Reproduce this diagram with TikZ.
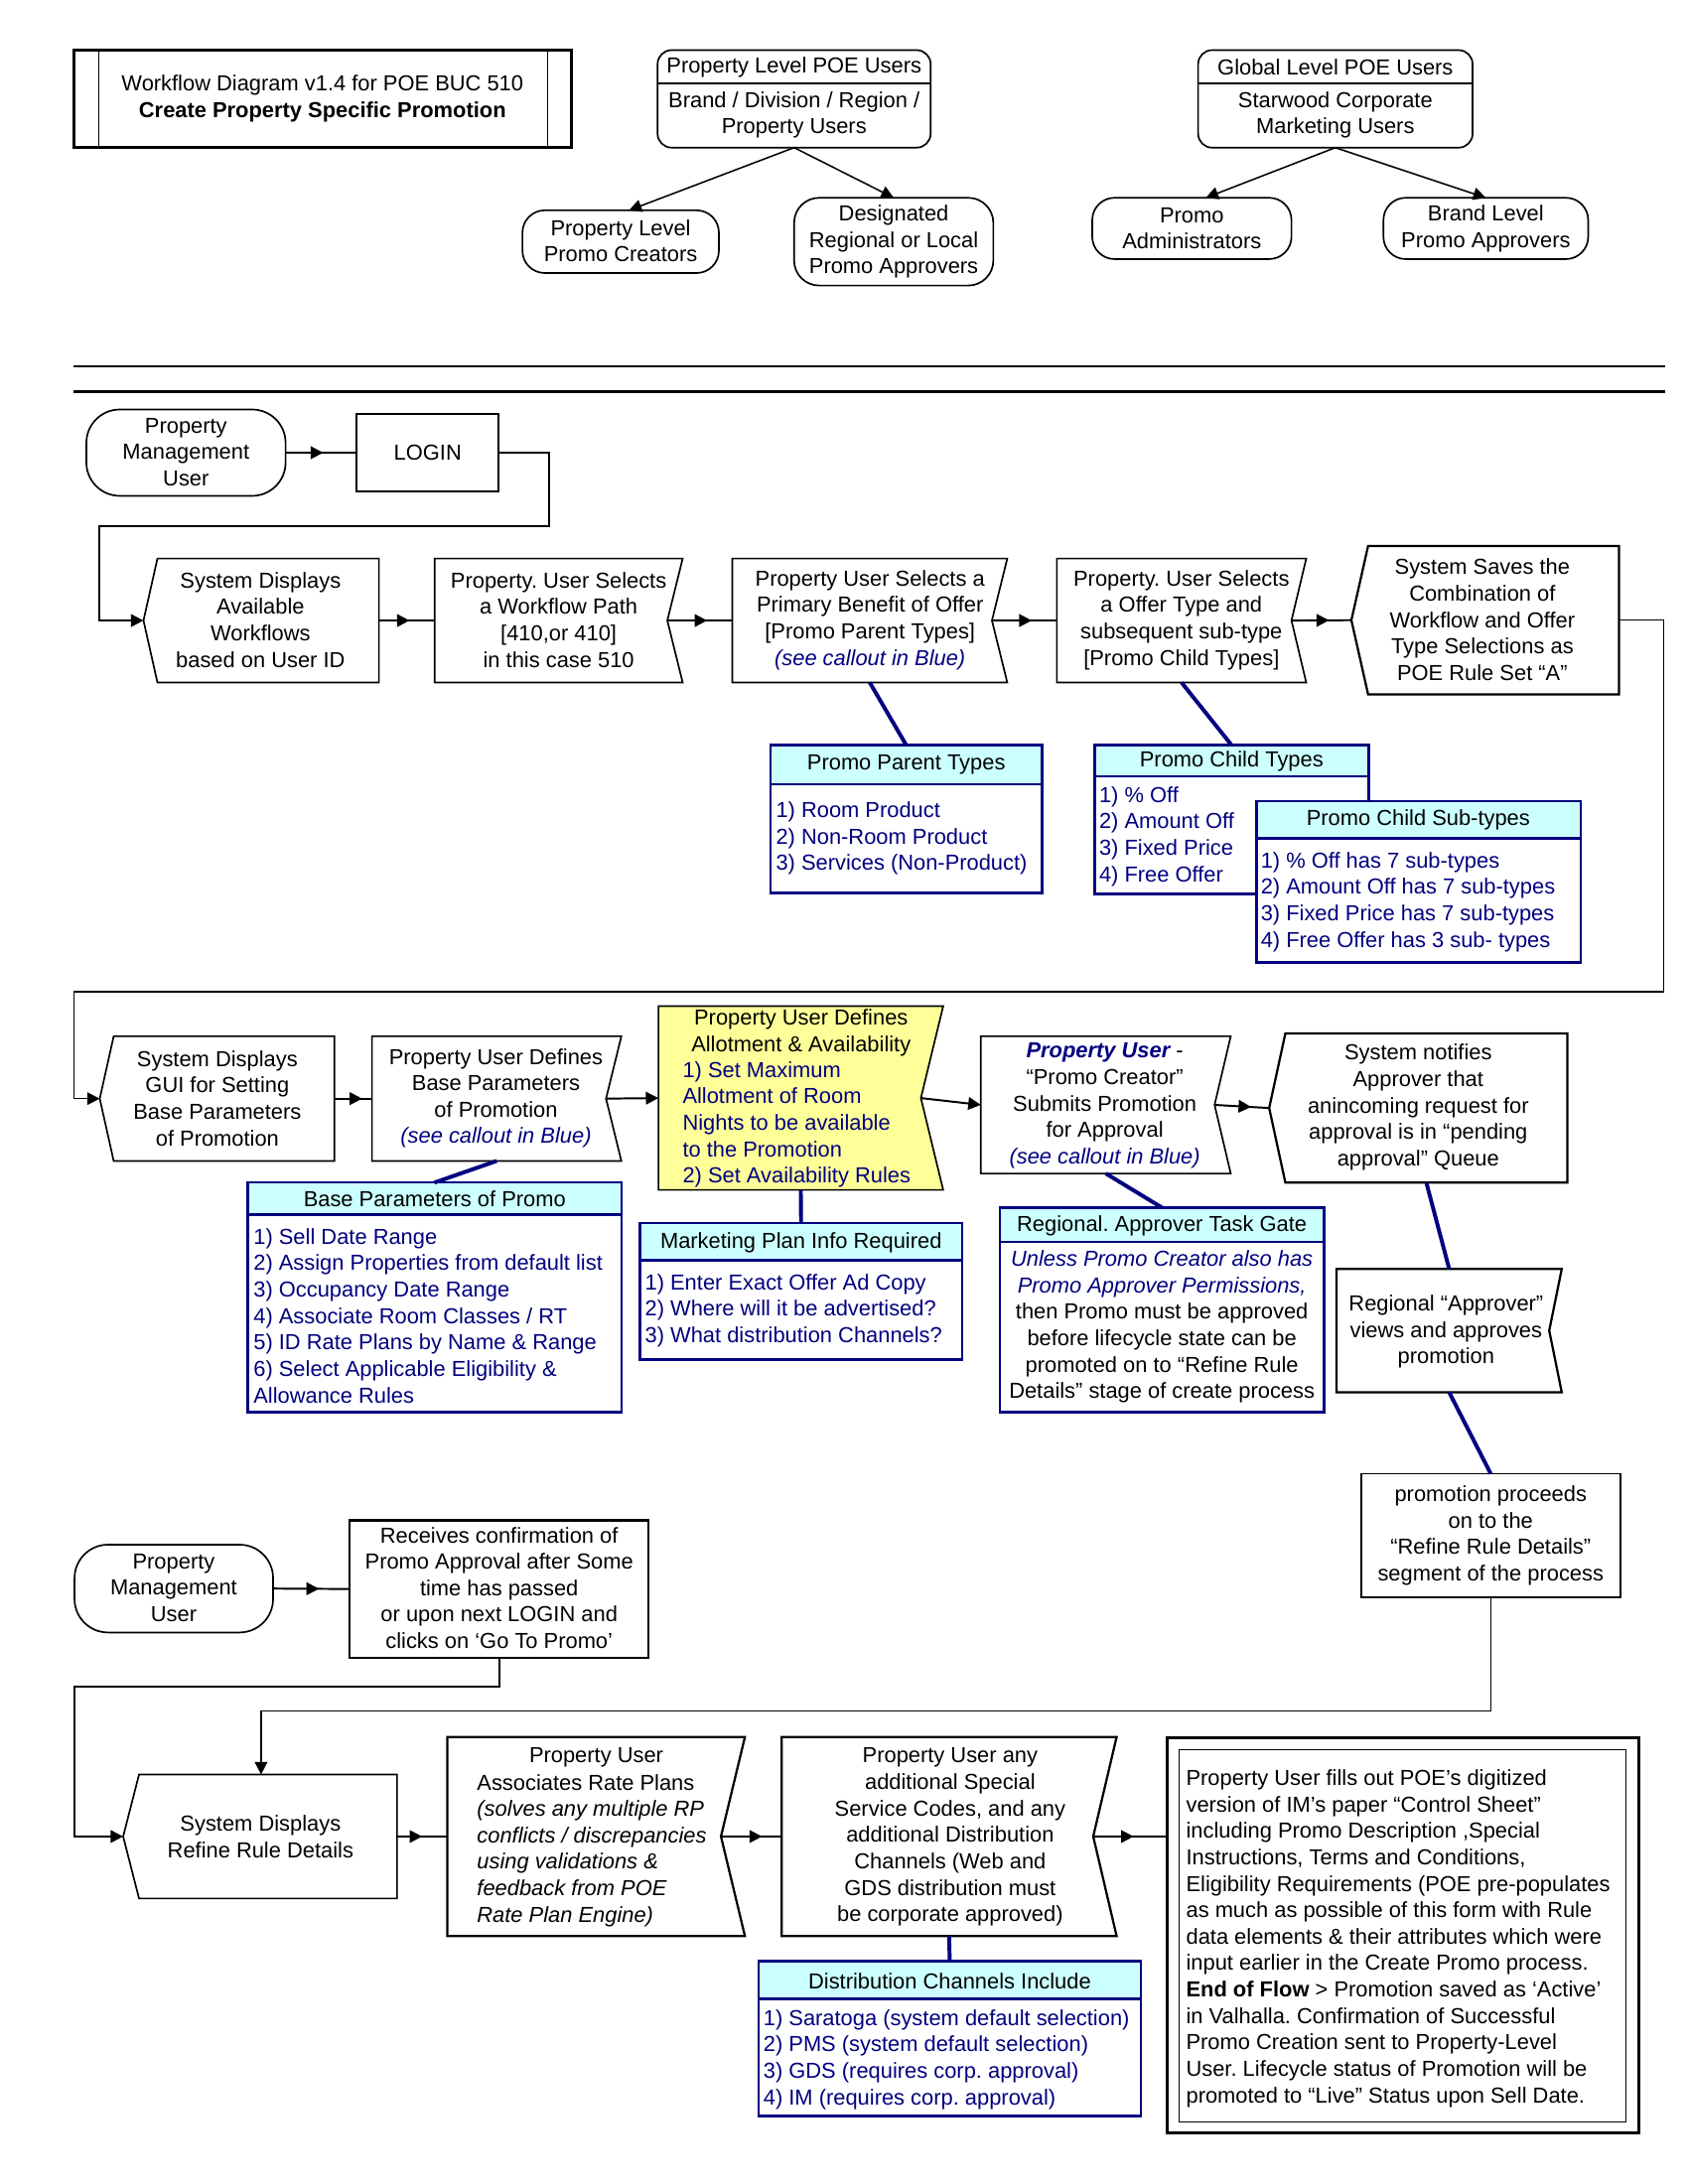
\documentclass[tikz,border=0pt]{standalone}
\usepackage{fontspec}
\setmainfont{Liberation Sans}
\frenchspacing
\usetikzlibrary{arrows.meta,decorations.markings,fit,calc}
\definecolor{navyc}{HTML}{000080}
\definecolor{hdrc}{HTML}{CCFFFF}
\definecolor{yel}{HTML}{FFFF99}
\newcommand\pshape[8][]{%
  \node[fit={(#3,#4)(#5,#6)}] (#2) {};
  \coordinate (#2L) at ([xshift=#7]#2.west);
  \coordinate (#2R) at ([xshift=#8]#2.east);
  \draw[shp,#1] (#2.north west) -- (#2.north east) -- (#2R) -- (#2.south east) -- (#2.south west) -- (#2L) -- cycle;}
\newcommand\callout[6]{%
  \node[fit={(#2,#3)(#4,#5)}] (#1) {};
  \fill[white] (#2,#3) rectangle (#4,#5);
  \fill[hdrc] (#2,#3) rectangle (#4,#6);
  \draw[cb] (#2,#6) -- (#4,#6);
  \draw[cb] (#1.north west) rectangle (#1.south east);}
\begin{document}
\begin{tikzpicture}[x=0.5pt,y=-0.5pt,
  every node/.style={font=\fontsize{7.8}{9.5}\selectfont\frenchspacing, inner sep=0pt, outer sep=0pt, align=center},
  shp/.style={draw, line width=0.6pt, line join=miter},
  tip/.style={-{Triangle[length=4.5pt,width=4.5pt]}},
  conn/.style={draw, line width=0.7pt},
  thinconn/.style={draw, line width=0.55pt},
  marr/.style={postaction={decorate}, decoration={markings, mark=at position #1 with {\arrow{Triangle[length=4.5pt,width=4.5pt]}}}},
  navyconn/.style={draw=navyc, line width=1.4pt},
  cb/.style={draw=navyc, line width=0.9pt},
  bl/.style={text=navyc},
]
\fill[white] (0,0) rectangle (1212,1568);
\useasboundingbox (0,0) rectangle (1212,1568);

% ---------- top section ----------
\node[fit={(53,36)(410,106)}] (title) {};
\draw[line width=0.9pt] (title.north west) rectangle (title.south east);
\draw[line width=0.6pt] (71,36) -- (71,106) (393,36) -- (393,106);
\node (titlet) at (231.5,71) {Workflow Diagram v1.4 for POE BUC 510\\\textbf{Create Property Specific Promotion}};

\node[fit={(472,36)(668,106)}] (plu) {};
\draw[shp, rounded corners=5pt] (plu.north west) rectangle (plu.south east);
\draw[shp] (472,60) -- (668,60);
\node (pluh) at (570,48) {Property Level POE Users};
\node (plub) at (570,82.5) {Brand / Division / Region /\\Property Users};

\node[fit={(375,151)(516,196)}] (plc) {};
\draw[shp, rounded corners=8pt] (plc.north west) rectangle (plc.south east);
\node (plct) at (445.5,173) {Property Level\\Promo Creators};
\node[fit={(570,142)(713,205)}] (dra) {};
\draw[shp, rounded corners=9pt] (dra.north west) rectangle (dra.south east);
\node (drat) at (641.5,173.5) {Designated\\Regional or Local\\Promo Approvers};
\draw[thinconn, tip] (plu.south) -- ([xshift=3pt]plc.north);
\draw[thinconn, tip] (plu.south) -- (dra.north);

\node[fit={(860,36)(1057,106)}] (glu) {};
\draw[shp, rounded corners=5pt] (glu.north west) rectangle (glu.south east);
\draw[shp] (860,60) -- (1057,60);
\node (gluh) at (958.5,48) {Global Level POE Users};
\node (glub) at (958.5,82.5) {Starwood Corporate\\Marketing Users};

\node[fit={(784,142)(927,186)}] (pa) {};
\draw[shp, rounded corners=8pt] (pa.north west) rectangle (pa.south east);
\node (pat) at (855.5,164) {Promo\\Administrators};
\node[fit={(993,142)(1140,186)}] (blp) {};
\draw[shp, rounded corners=8pt] (blp.north west) rectangle (blp.south east);
\node (blpt) at (1066.5,164) {Brand Level\\Promo Approvers};
\draw[thinconn, tip] (glu.south) -- ([xshift=5pt]pa.north);
\draw[thinconn, tip] (glu.south) -- (blp.north);

\draw[line width=1pt] (53,263) -- (1195,263) (53,281) -- (1195,281);

% ---------- row 1 ----------
\node[fit={(62,294)(205,356)}] (pmu1) {};
\draw[shp, rounded corners=12pt] (pmu1.north west) rectangle (pmu1.south east);
\node (pmu1t) at (133.5,324.5) {Property\\Management\\User};
\node[fit={(256,297)(358,353)}] (login) {};
\draw[shp, line width=0.8pt] (login.north west) rectangle (login.south east);
\node (logint) at (307,325) {LOGIN};
\draw[conn, marr=-12pt] (pmu1.east) -- (login.west);

\pshape{sd1}{113}{401}{272}{490}{-5pt}{0pt}
\node (sd1t) at (187,445) {System Displays\\Available\\Workflows\\based on User ID};
\pshape{ws}{312}{401}{490}{490}{0pt}{-5.5pt}
\node (wst) at (401,445) {Property. User Selects\\a Workflow Path\\{[410,or 410]}\\in this case 510};
\pshape{pb}{525.6}{401}{723}{490}{0pt}{-5.5pt}
\node (pbt) at (624.5,445) {Property User Selects a\\Primary Benefit of Offer\\{[Promo Parent Types]}\\\textcolor{navyc}{\itshape (see callout in Blue)}};
\pshape{ot}{758.6}{401}{937.6}{490}{0pt}{-5.3pt}
\node (ott) at (848,445) {Property. User Selects\\a Offer Type and\\subsequent sub-type\\{[Promo Child Types]}};
\pshape[line width=0.8pt]{ss}{982}{392}{1162}{498.5}{-6pt}{0pt}
\node (sst) at (1064,445) {System Saves the\\Combination of\\Workflow and Offer\\Type Selections as\\POE Rule Set “A”};

\draw[conn, tip] (login.east) -- ++(36,0) -- ++(0,53) -| ($(sd1L)+(-32,0)$) -- (sd1L);
\draw[conn, marr=-9pt] (sd1.east) -- (ws.west);
\draw[conn, marr=-9pt] (wsR) -- (pb.west);
\draw[conn, marr=-9pt] (pbR) -- (ot.west);
\draw[conn, marr=-8pt] (otR) -- (ssL);

% callouts row 1
\callout{ppt}{553}{535}{748}{641}{563}
\node (ppth) at (650.5,549) {Promo Parent Types};
\node[bl, anchor=west, align=left] (ppti) at (557,602) {1) Room Product\\2) Non-Room Product\\3) Services (Non-Product)};
\draw[navyconn] (pb.south) -- (ppt.north);

\callout{pct}{785.6}{535}{982.5}{641.7}{557.5}
\node (pcth) at (884,546.5) {Promo Child Types};
\node[bl, anchor=west, align=left] (pcti) at (789,600.5) {1) \% Off\\2) Amount Off\\3) Fixed Price\\4) Free Offer};
\draw[navyconn] (ot.south) -- (pct.north);

\callout{pcs}{902}{575}{1134.5}{691}{601.8}
\node (pcsh) at (1018,588.5) {Promo Child Sub-types};
\node[bl, anchor=west, align=left] (pcsi) at (905,647.5) {1) \% Off has 7 sub-types\\2) Amount Off has 7 sub-types\\3) Fixed Price has 7 sub-types\\4) Free Offer has 3 sub- types};

% ---------- row 2 ----------
\pshape{sdg}{81.6}{744}{240}{833.5}{-5pt}{0pt}
\node (sdgt) at (156,788.5) {System Displays\\GUI for Setting\\Base Parameters\\of Promotion};
\pshape{bp}{267}{744}{446}{833.5}{0pt}{-5.5pt}
\node (bpt) at (356,788.5) {Property User Defines\\Base Parameters\\of Promotion\\\textcolor{navyc}{\itshape (see callout in Blue)}};
\pshape[fill=yel]{al}{472.6}{722.4}{677}{854.3}{0pt}{-8pt}
\node (alh) at (575,741.5) {Property User Defines\\Allotment \& Availability};
\node[bl, anchor=west, align=left] (alb) at (490,807.5) {1) Set Maximum\\Allotment of Room\\Nights to be available\\to the Promotion\\2) Set Availability Rules};
\pshape{pc}{704}{744}{883.4}{842.5}{0pt}{-5.8pt}
\node (pcx) at (793,794) {\textcolor{navyc}{\bfseries\itshape Property User} -\\“Promo Creator”\\Submits Promotion\\for Approval\\\textcolor{navyc}{\itshape (see callout in Blue)}};
\pshape[line width=0.8pt]{sn}{922.6}{742}{1125}{849}{-5.8pt}{0pt}
\node (snt) at (1018,795) {System notifies\\Approver that\\anincoming request for\\approval is in “pending\\approval” Queue};
\pshape[line width=0.8pt]{ra}{959.4}{911}{1121}{999.6}{0pt}{-4.5pt}
\node (rat) at (1038,956) {Regional “Approver”\\views and approves\\promotion};
\node[fit={(977,1058)(1163,1147)}] (pp) {};
\draw[shp] (pp.north west) rectangle (pp.south east);
\node (ppt2) at (1070,1102.5) {promotion proceeds\\on to the\\“Refine Rule Details”\\segment of the process};

\coordinate (rb1) at (1194,712);
\draw[thinconn, tip] (ss.east) -| (rb1) -| ($(sdgL)+(-18.5,0)$) -- (sdgL);
\draw[conn, marr=-3.5pt] (sdg.east) -- (bp.west);
\draw[conn, tip] (bpR) -- (al.west);
\draw[conn, tip] (alR) -- (pc.west);
\draw[conn, marr=-6.5pt] (pcR) -- (snL);
\draw[navyconn] (sn.south) -- (ra.north);
\draw[navyconn] (ra.south) -- (pp.north);

\callout{bpp}{177.8}{849}{446}{1014}{872}
\node (bpph) at (312,861) {Base Parameters of Promo};
\node[bl, anchor=west, align=left] (bppi) at (182,944.5) {1) Sell Date Range\\2) Assign Properties from default list\\3) Occupancy Date Range\\4) Associate Room Classes / RT\\5) ID Rate Plans by Name \& Range\\6) Select Applicable Eligibility \&\\Allowance Rules};
\draw[navyconn] (bp.south) -- (bpp.north);

\callout{mp}{459.4}{878}{690.6}{976}{904.8}
\node (mph) at (575,892) {Marketing Plan Info Required};
\node[bl, anchor=west, align=left] (mpi) at (463,941) {1) Enter Exact Offer Ad Copy\\2) Where will it be advertised?\\3) What distribution Channels?};
\draw[navyconn] (al.south) -- (mp.north);

\callout{tg}{717.7}{867}{950.4}{1014}{891.7}
\node (tgh) at (834,880) {Regional. Approver Task Gate};
\node (tgb) at (834,952.6) {\textcolor{navyc}{\itshape Unless Promo Creator also has}\\\textcolor{navyc}{\itshape Promo Approver Permissions,}\\then Promo must be approved\\before lifecycle state can be\\promoted on to “Refine Rule\\Details” stage of create process};
\draw[navyconn] (pc.south) -- (tg.north);

% ---------- row 3 ----------
\node[fit={(53.5,1109)(196,1172)}] (pmu2) {};
\draw[shp, rounded corners=12pt] (pmu2.north west) rectangle (pmu2.south east);
\node (pmu2t) at (124.7,1140) {Property\\Management\\User};
\node[fit={(251,1091.6)(465.6,1190)}] (rc) {};
\draw[shp, line width=0.8pt] (rc.north west) rectangle (rc.south east);
\node (rct) at (358.3,1140) {Receives confirmation of\\Promo Approval after Some\\time has passed\\or upon next LOGIN and\\clicks on ‘Go To Promo’};
\draw[conn, marr=-11pt] (pmu2.east) -- (rc.west);

\pshape{rr}{99.8}{1274}{285}{1363}{-5.7pt}{0pt}
\node (rrt) at (187,1318.5) {System Displays\\Refine Rule Details};
\pshape[line width=0.8pt]{ar}{321}{1247}{534.7}{1390}{0pt}{-8.6pt}
\node (art1) at (428,1262) {Property User};
\node[anchor=west, align=left] (art2) at (342.4,1328.5) {Associates Rate Plans\\\textit{(solves any multiple RP}\\\textit{conflicts / discrepancies}\\\textit{using validations \&}\\\textit{feedback from POE}\\\textit{Rate Plan Engine)}};
\pshape[line width=0.8pt]{ad}{561}{1247}{801.5}{1390}{0pt}{-8.4pt}
\node (adt) at (682,1319) {Property User any\\additional Special\\Service Codes, and any\\additional Distribution\\Channels (Web and\\GDS distribution must\\be corporate approved)};

\node[fit={(837.7,1247.7)(1176.4,1531.6)}] (big) {};
\draw[line width=1.1pt] (big.north west) rectangle (big.south east);
\draw[line width=0.5pt] (846.3,1256) rectangle (1167,1523.5);
\node[anchor=west, align=left] (bigt) at (851.4,1391.7) {Property User fills out POE’s digitized\\version of IM’s paper “Control Sheet”\\including Promo Description ,Special\\Instructions, Terms and Conditions,\\Eligibility Requirements (POE pre-populates\\as much as possible of this form with Rule\\data elements \& their attributes which were\\input earlier in the Create Promo process.\\\textbf{End of Flow} > Promotion saved as ‘Active’\\in Valhalla. Confirmation of Successful\\Promo Creation sent to Property-Level\\User. Lifecycle status of Promotion will be\\promoted to “Live” Status upon Sell Date.};

\draw[conn, tip] (rc.south) -- ++(0,21) -| ($(rrL)+(-35,0)$) -- (rrL);
\draw[thinconn, tip] (pp.south) -- ++(0,81.5) -| ([xshift=-2.5pt]rr.north);
\draw[conn, marr=-9pt] (rr.east) -- (ar.west);
\draw[conn, marr=-7pt] (arR) -- (ad.west);
\draw[conn, marr=-12pt] (adR) -- (adR -| big.west);

\callout{dc}{544.4}{1408}{819}{1519}{1435}
\node (dch) at (681.7,1422) {Distribution Channels Include};
\node[bl, anchor=west, align=left] (dci) at (548,1478.5) {1) Saratoga (system default selection)\\2) PMS (system default selection)\\3) GDS (requires corp. approval)\\4) IM (requires corp. approval)};
\draw[navyconn] (ad.south) -- (dc.north);
\end{tikzpicture}
\end{document}
